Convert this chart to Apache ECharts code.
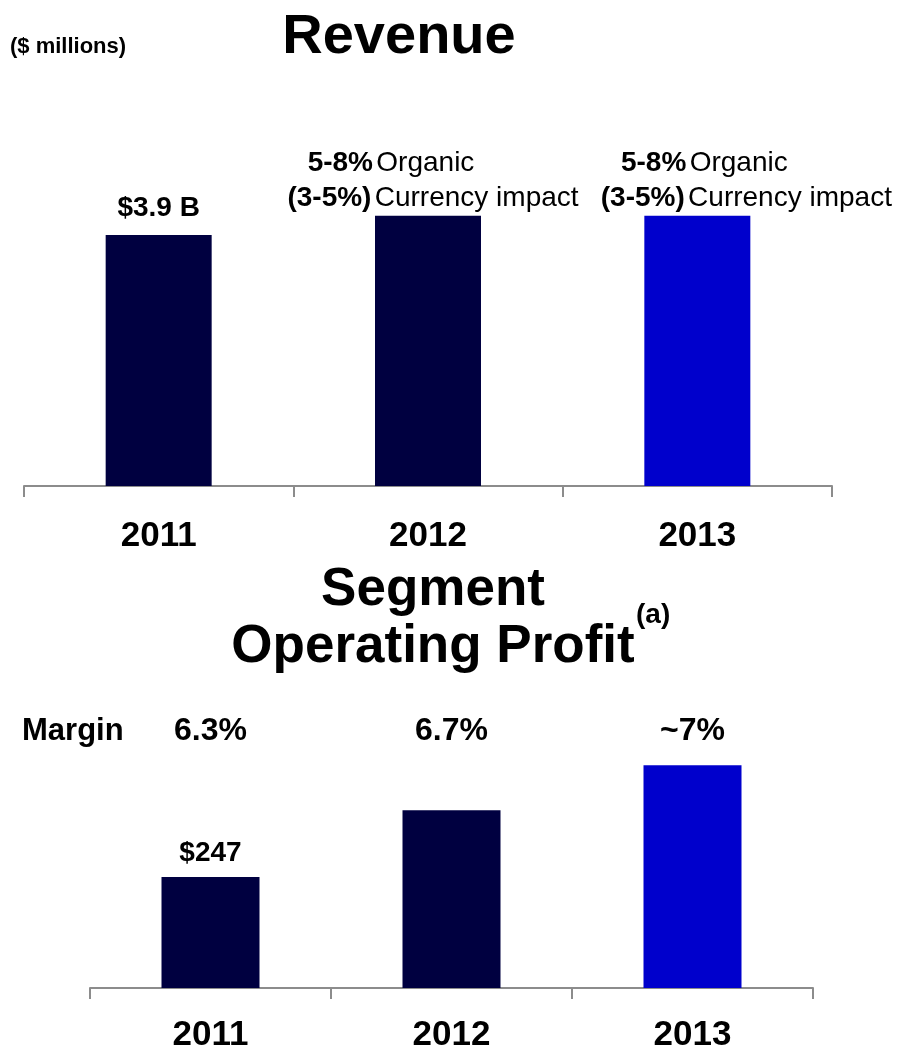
<!DOCTYPE html>
<html>
<head>
<meta charset="utf-8">
<script src="https://cdn.jsdelivr.net/npm/echarts@6/dist/echarts.min.js"></script>
<style>
  html, body { margin: 0; padding: 0; background: #fff; }
  #content { width: 901px; height: 1047px; }
</style>
</head>
<body>
<div id="content"></div>
<script>
// revenue chart ($ billions)
let years = ['2011', '2012', '2013'];
let revenue = [3.9, 4.2, 4.2];
let revenueValueLabels = ['$3.9 B', '', ''];
let organicGrowth = ['', '5-8%', '5-8%'];
let currencyImpact = ['', '(3-5%)', '(3-5%)'];

// segment operating profit chart ($ millions)
let profit = [247, 396, 496];
let profitValueLabels = ['$247', '', ''];
let margins = ['6.3%', '6.7%', '~7%'];

let navy = '#000040';
let blue = '#0000CC';
let barColors = [navy, navy, blue];
let font = '"Liberation Sans", Arial, sans-serif';
let axisGrey = '#8c8c8c';

let chart = echarts.init(document.getElementById('content'));

// per-bar placement of the revenue annotations
let line2Offsets = [[0, 0], [5, 0], [49, 0]];
let line1Offsets = [[0, 0], [-37, -35], [7, -35]];

let revenueData = revenue.map(function (v, i) {
    let item = { value: v, itemStyle: { color: barColors[i] } };
    if (revenueValueLabels[i]) {
        item.label = { distance: 13, formatter: '{v|' + revenueValueLabels[i] + '}' };
    } else {
        item.label = { distance: 4, offset: line2Offsets[i],
            formatter: '{b|' + currencyImpact[i] + '} {n|Currency impact}' };
    }
    return item;
});

let organicData = revenue.map(function (v, i) {
    return {
        value: v,
        label: organicGrowth[i] ? {
            show: true, distance: 4, offset: line1Offsets[i],
            formatter: '{b|' + organicGrowth[i] + '} {n|Organic}'
        } : { show: false }
    };
});

let profitData = profit.map(function (v, i) {
    return {
        value: v,
        itemStyle: { color: barColors[i] },
        label: { show: !!profitValueLabels[i], formatter: profitValueLabels[i] }
    };
});

let richText = {
    v: { fontFamily: font, fontWeight: 'bold', fontSize: 28, color: '#000' },
    b: { fontFamily: font, fontWeight: 'bold', fontSize: 28, color: '#000' },
    n: { fontFamily: font, fontWeight: 'normal', fontSize: 28, color: '#000' }
};

function catAxis(gridIndex, margin) {
    return {
        type: 'category',
        gridIndex: gridIndex,
        data: years,
        axisLine: { lineStyle: { color: axisGrey, width: 2 } },
        axisTick: { show: true, length: 11, lineStyle: { color: axisGrey, width: 2 } },
        axisLabel: {
            margin: margin,
            fontFamily: font, fontWeight: 'bold', fontSize: 35, color: '#000'
        }
    };
}

chart.setOption({
    animation: false,
    graphic: [
        { type: 'text', x: 10, y: 47, style: { text: '($ millions)', font: 'bold 22px ' + font, fill: '#000', textVerticalAlign: 'middle' } },
        { type: 'text', x: 399, y: 38, style: { text: 'Revenue', font: 'bold 56px ' + font, fill: '#000', textAlign: 'center', textVerticalAlign: 'middle' } },
        { type: 'text', x: 433, y: 590, style: { text: 'Segment', font: 'bold 53px ' + font, fill: '#000', textAlign: 'center', textVerticalAlign: 'middle' } },
        { type: 'text', x: 433, y: 647, style: { text: 'Operating Profit', font: 'bold 53px ' + font, fill: '#000', textAlign: 'center', textVerticalAlign: 'middle' } },
        { type: 'text', x: 636, y: 615, style: { text: '(a)', font: 'bold 28px ' + font, fill: '#000', textVerticalAlign: 'middle' } },
        { type: 'text', x: 22, y: 731, style: { text: 'Margin', font: 'bold 31px ' + font, fill: '#000', textVerticalAlign: 'middle' } }
    ],
    grid: [
        { left: 24, right: 69, top: 100, bottom: 561, outerBoundsMode: 'none' },
        { left: 90, right: 88, top: 741, bottom: 59, outerBoundsMode: 'none' }
    ],
    xAxis: [
        catAxis(0, 33),
        catAxis(1, 30),
        {
            type: 'category',
            gridIndex: 1,
            position: 'top',
            data: margins,
            axisLine: { show: false },
            axisTick: { show: false },
            axisLabel: {
                margin: 10,
                verticalAlign: 'middle',
                fontFamily: font, fontWeight: 'bold', fontSize: 32, color: '#000'
            }
        }
    ],
    yAxis: [
        { type: 'value', gridIndex: 0, min: 0, max: 6, show: false },
        { type: 'value', gridIndex: 1, min: 0, max: 550, show: false }
    ],
    series: [
        {
            name: 'Revenue',
            type: 'bar',
            xAxisIndex: 0, yAxisIndex: 0,
            barWidth: 106,
            data: revenueData,
            label: { show: true, position: 'top', rich: richText },
            z: 2
        },
        {
            name: 'Organic',
            type: 'bar',
            xAxisIndex: 0, yAxisIndex: 0,
            barWidth: 106,
            barGap: '-100%',
            data: organicData,
            itemStyle: { color: 'rgba(0,0,0,0)' },
            label: { position: 'top', rich: richText },
            z: 1
        },
        {
            name: 'Segment Operating Profit',
            type: 'bar',
            xAxisIndex: 1, yAxisIndex: 1,
            barWidth: 98,
            data: profitData,
            label: {
                position: 'top', distance: 10,
                fontFamily: font, fontWeight: 'bold', fontSize: 28, color: '#000'
            }
        }
    ]
});
</script>
</body>
</html>
